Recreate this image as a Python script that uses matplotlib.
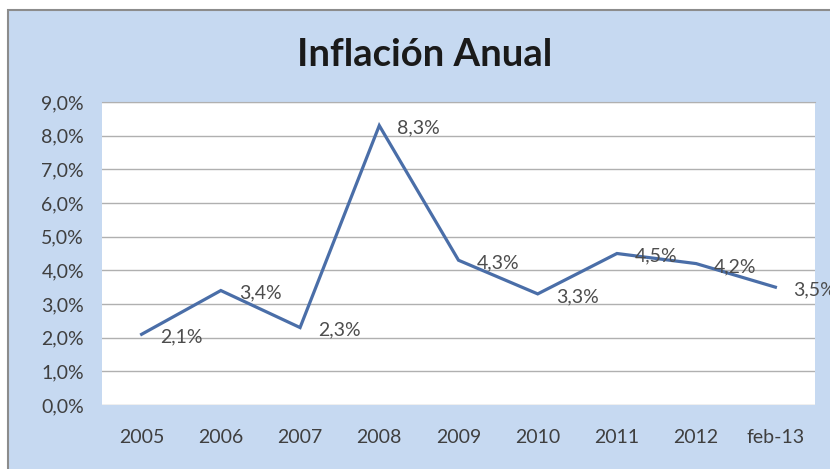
import matplotlib as mpl
mpl.use('Agg')
import matplotlib.pyplot as plt
from matplotlib.patches import Rectangle

categories = ['2005', '2006', '2007', '2008', '2009', '2010', '2011', '2012', 'feb-13']
inflacion = [2.1, 3.4, 2.3, 8.3, 4.3, 3.3, 4.5, 4.2, 3.5]
yticks = [0, 1, 2, 3, 4, 5, 6, 7, 8, 9]

plt.rcParams['font.family'] = ['Lato', 'DejaVu Sans']

W, H = 830, 469
fig = plt.figure(figsize=(W / 100, H / 100), dpi=100)
fig.patch.set_facecolor('white')

# light blue chart area with a grey frame
fig.patches.append(Rectangle((8 / W, -0.01), 1.0, (H - 10) / H + 0.01,
                             transform=fig.transFigure, facecolor='#c6d9f1',
                             edgecolor='#8c8c8c', linewidth=1.5, zorder=-10))

ax = fig.add_axes([102 / W, (H - 405) / H, 713 / W, 303 / H])
ax.set_zorder(1)
ax.set_facecolor('white')

x = list(range(len(categories)))
ax.plot(x, inflacion, color='#4a6ea8', linewidth=2.3, solid_joinstyle='miter', zorder=3)

for xi, v in zip(x, inflacion):
    ax.annotate('{0:.1f}%'.format(v).replace('.', ','), (xi, v), xytext=(13, -2),
                textcoords='offset points', ha='left', va='center',
                fontsize=14, color='#4d4d4d', annotation_clip=False, zorder=4)

ax.set_xlim(-0.5, len(categories) - 0.5)
ax.set_ylim(0, 9)
ax.set_yticks(yticks)
ax.set_yticklabels(['{0:.1f}%'.format(t).replace('.', ',') for t in yticks])
ax.set_xticks(x)
ax.set_xticklabels(categories)
ax.tick_params(axis='both', length=0, labelsize=14, labelcolor='#3f3f3f')
ax.tick_params(axis='y', pad=13)
ax.tick_params(axis='x', pad=17)
ax.grid(axis='y', color='#b0b0b0', linewidth=1.0)
ax.set_axisbelow(True)
for side in ['left', 'right', 'bottom']:
    ax.spines[side].set_visible(False)
ax.spines['top'].set_color('#b0b0b0')

fig.text(425 / W, (H - 55) / H, 'Inflación Anual', ha='center', va='center',
         fontsize=27.5, fontweight='bold', color='#1a1a1a')

plt.savefig('out.png', dpi=100)
